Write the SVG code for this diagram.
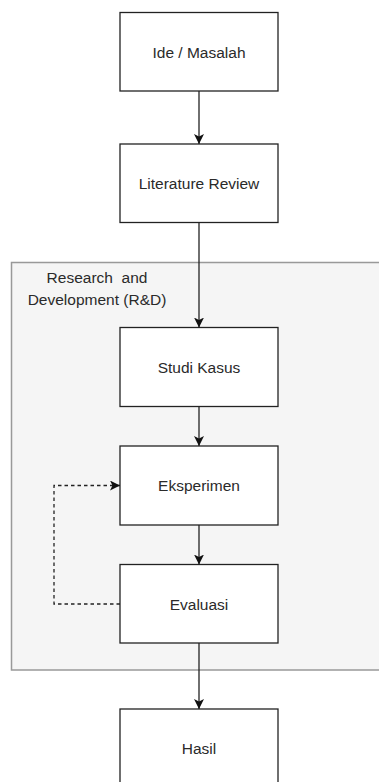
<svg xmlns="http://www.w3.org/2000/svg" width="379" height="782" viewBox="0 0 379 782">
<style>
.box{fill:#fff;stroke:#222;stroke-width:1.3}
.t{font-family:"Liberation Sans",Arial,sans-serif;font-size:15.5px;fill:#2a2a2a;text-anchor:middle;dominant-baseline:central}
.c{fill:none;stroke:#222;stroke-width:1.3}
</style>
<defs>
<marker id="a" viewBox="0 0 10 10" refX="10" refY="5" markerWidth="10" markerHeight="10" markerUnits="userSpaceOnUse" orient="auto">
<path d="M0,0 L10,5 L0,10 L2.5,5 Z" fill="#111"/>
</marker>
</defs>
<g id="rnd">
<rect x="11.5" y="262.5" width="380" height="407.5" fill="#f5f5f5" stroke="#999" stroke-width="1.5"/>
<text class="t" x="97" y="277" style="white-space:pre">Research  and</text>
<text class="t" x="97" y="299">Development (R&amp;D)</text>
</g>
<g id="ide"><rect class="box" x="120" y="12.5" width="158" height="78.5"/><text class="t" x="199" y="52">Ide / Masalah</text></g>
<g id="lit"><rect class="box" x="120" y="144" width="158" height="78.5"/><text class="t" x="199" y="183">Literature Review</text></g>
<g id="studi"><rect class="box" x="120" y="327.5" width="158" height="79"/><text class="t" x="199" y="367">Studi Kasus</text></g>
<g id="eks"><rect class="box" x="120" y="446" width="158" height="79"/><text class="t" x="199" y="485.5">Eksperimen</text></g>
<g id="eval"><rect class="box" x="120" y="564.5" width="158" height="78.5"/><text class="t" x="199" y="604">Evaluasi</text></g>
<g id="hasil"><rect class="box" x="120" y="709" width="158" height="79"/><text class="t" x="199" y="748.5">Hasil</text></g>
<g id="connectors">
<line class="c" x1="199" y1="91" x2="199" y2="144" marker-end="url(#a)"/>
<line class="c" x1="199" y1="222.5" x2="199" y2="327.5" marker-end="url(#a)"/>
<line class="c" x1="199" y1="406.5" x2="199" y2="446" marker-end="url(#a)"/>
<line class="c" x1="199" y1="525" x2="199" y2="564.5" marker-end="url(#a)"/>
<line class="c" x1="199" y1="643" x2="199" y2="709" marker-end="url(#a)"/>
<polyline class="c" points="120,604 54,604 54,485.5 120,485.5" stroke-dasharray="3.5,3" marker-end="url(#a)"/>
</g>
</svg>
